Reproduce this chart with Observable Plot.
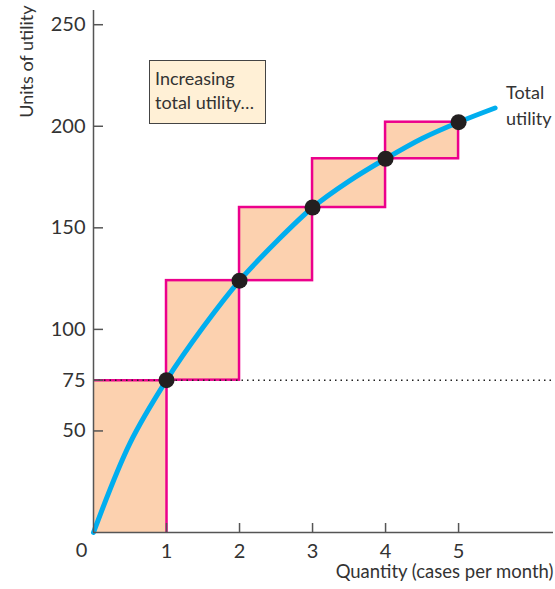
<!DOCTYPE html>
<html><head><meta charset="utf-8">
<script src="https://cdn.jsdelivr.net/npm/d3@7"></script>
<script src="https://cdn.jsdelivr.net/npm/@observablehq/plot@0.6"></script>
<style>
body{margin:0;background:#fff;}
#chart{position:relative;width:555px;height:589px;font-family:Lato,sans-serif;}
#chart svg{position:absolute;left:0;top:0;}
.note{position:absolute;left:149px;top:60px;width:117px;height:64px;box-sizing:border-box;background:#FFF0D6;border:1px solid #444;padding:5px 0 0 5px;font-size:18px;line-height:24px;color:#333;}
</style></head><body>
<div id="chart"><div class="note">Increasing<br>total utility…</div></div>
<script>
// Data
const quantity = [1, 2, 3, 4, 5];
const totalUtility = [75, 124, 160, 184, 202];
const curveQ = [0, 0.5, 1, 1.5, 2, 2.5, 3, 3.5, 4, 4.5, 5, 5.5];
const curveU = [0, 44, 75, 101, 124, 143, 160, 173, 184, 194, 202, 209];
const yTicks = [50, 75, 100, 150, 200, 250];
const xTicks = [1, 2, 3, 4, 5];

const points = quantity.map((q, i) => ({q, u: totalUtility[i]}));
const boxes = quantity.map((q, i) => ({x1: q - 1, x2: q, y1: i === 0 ? 0 : totalUtility[i - 1], y2: totalUtility[i]}));
const firstBox = boxes.slice(0, 1);
const otherBoxes = boxes.slice(1);
const curve = curveQ.map((q, i) => ({q, u: curveU[i]}));
const curveEnd = curve[curve.length - 1];
const pink = "#EC008C";

const svg = Plot.plot({
  width: 555, height: 589,
  marginLeft: 93, marginRight: 2, marginTop: 10, marginBottom: 57,
  x: {domain: [0, 6.3]},
  y: {domain: [0, 257]},
  style: {fontFamily: "Lato, sans-serif", fontSize: "20px", color: "#333", background: "#fff"},
  marks: [
    Plot.rect(firstBox, {x1: "x1", x2: "x2", y1: "y1", y2: "y2", fill: "#FCD1AF"}),
    Plot.ruleX(firstBox, {x: "x2", y1: "y1", y2: "y2", stroke: pink, strokeWidth: 2.5}),
    Plot.ruleY(firstBox, {y: "y2", x1: "x1", x2: "x2", stroke: pink, strokeWidth: 2.5}),
    Plot.rect(otherBoxes, {x1: "x1", x2: "x2", y1: "y1", y2: "y2", fill: "#FCD1AF", stroke: pink, strokeWidth: 2.5}),
    Plot.ruleY([75], {stroke: "#222", strokeWidth: 1.5, strokeDasharray: "1.5,4"}),
    Plot.line(curve, {x: "q", y: "u", curve: "catmull-rom", stroke: "#00AEEF", strokeWidth: 5}),
    Plot.dot(points, {x: "q", y: "u", r: 8, fill: "#231F20"}),
    Plot.ruleX([0], {stroke: "#555", strokeWidth: 1.5}),
    Plot.ruleY([0], {stroke: "#555", strokeWidth: 1.5}),
    Plot.axisY(yTicks, {tickSize: -10, tickFormat: () => "", stroke: "#555", strokeWidth: 1.5, label: null}),
    Plot.axisY(yTicks, {tickSize: 0, tickPadding: 8, fontSize: 20, fill: "#333", label: null}),
    Plot.axisX(xTicks, {tickSize: -9, tickFormat: () => "", stroke: "#555", strokeWidth: 1.5, label: null}),
    Plot.axisX(xTicks, {tickSize: 0, tickPadding: 11, fontSize: 20, fill: "#333", label: null}),
    Plot.text([0], {x: d => d, y: d => d, text: d => String(d), dx: -12, dy: 18, fontSize: 20, fill: "#333"}),
    Plot.text(["Units of utility"], {frameAnchor: "top-left", text: d => d, rotate: -90, textAnchor: "end", dx: -73, dy: -5, fontSize: 18, fill: "#333"}),
    Plot.text(["Quantity (cases per month)"], {frameAnchor: "bottom-right", text: d => d, textAnchor: "end", dy: 45, fontSize: 18.5, fill: "#333"}),
    Plot.text([curveEnd], {x: "q", y: "u", text: () => "Total\nutility", textAnchor: "start", dx: 11, dy: -4, lineHeight: 1.45, fontSize: 18, fill: "#333"})
  ]
});
document.getElementById("chart").prepend(svg);
</script>
</body></html>
